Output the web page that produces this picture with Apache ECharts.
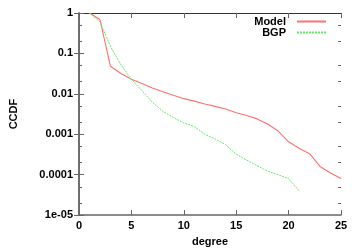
<!DOCTYPE html>
<html><head><meta charset="utf-8">
<script src="https://cdn.jsdelivr.net/npm/echarts@6/dist/echarts.min.js"></script>
<style>html,body{margin:0;padding:0;background:#fff}#c{width:360px;height:252px}</style>
</head><body><div id="c"></div>
<script>
var modelDegree = [1,2,3,4,5,6,7,8,9,10,11,12,13,14,15,16,17,18,19,20,21,22,23,24,25];
var modelCCDF = [1,0.69,0.048,0.032,0.023,0.018,0.014,0.0113,0.0092,0.0076,0.0066,0.0056,0.0049,0.0042,0.0034,0.0029,0.0024,0.0018,0.0012,0.00065,0.00045,0.00033,0.00016,0.00011,0.00008];
var bgpDegree = [1,2,3,4,5,6,7,8,9,10,11,12,13,14,15,16,17,18,19,20,21];
var bgpCCDF = [1,0.6,0.15,0.052,0.023,0.012,0.0062,0.0037,0.0026,0.0019,0.00155,0.001,0.00076,0.00055,0.00032,0.00023,0.000166,0.000123,0.0001,0.00008,0.00004];
var xTicks = [0,5,10,15,20,25];
var yTickLabels = ['1e-05','0.0001','0.001','0.01','0.1','1'];
var yMinor = [0.5,0.2,0.05,0.02,0.005,0.002,0.0005,0.0002,0.00005,0.00002];

function pairs(xs, ys){ return xs.map(function(x,i){ return [x, ys[i]]; }); }
var font = 'Liberation Sans';
var axisCol = '#666';
var chart = echarts.init(document.getElementById('c'));
var yBase = {
  type:'log', logBase:10, min:1e-5, max:1,
  splitLine:{show:false},
  axisLine:{show:true, lineStyle:{color:axisCol, width:1.5}},
  axisTick:{show:true, inside:true, length:5, lineStyle:{color:axisCol}}
};
var legendBase = {
  orient:'horizontal', right:33, align:'right', padding:0,
  itemWidth:29, itemHeight:10, itemGap:0,
  itemStyle:{opacity:0, borderWidth:0},
  textStyle:{fontFamily:font, fontWeight:'bold', fontSize:11, color:'#000', padding:[0,6,0,0]}
};
chart.setOption({
  animation:false,
  grid:{left:77, right:19, top:13, bottom:34},
  legend:[
    Object.assign({}, legendBase, {top:16, data:['Model']}),
    Object.assign({}, legendBase, {top:27, data:['BGP']})
  ],
  xAxis:[{
    type:'value', min:0, max:25, interval:5, position:'bottom',
    name:'degree', nameLocation:'middle', nameGap:19,
    nameTextStyle:{fontFamily:font, fontWeight:'bold', fontSize:11, color:'#000'},
    splitLine:{show:false},
    axisLine:{show:true, onZero:false, lineStyle:{color:axisCol, width:1.5}},
    axisTick:{show:true, inside:true, length:5, lineStyle:{color:axisCol}},
    axisLabel:{fontFamily:font, fontWeight:'bold', fontSize:11, color:'#000', margin:5,
      formatter:function(v){ return xTicks.indexOf(v)>=0 ? String(v) : ''; }}
  },{
    type:'value', min:0, max:25, interval:5, position:'top',
    splitLine:{show:false},
    axisLine:{show:true, onZero:false, lineStyle:{color:'#333', width:1}},
    axisTick:{show:true, inside:true, length:5, lineStyle:{color:axisCol}},
    axisLabel:{show:false}
  }],
  yAxis:[
    Object.assign({}, yBase, {
      position:'left',
      name:'CCDF', nameLocation:'middle', nameGap:60, nameRotate:90,
      nameTextStyle:{fontFamily:font, fontWeight:'bold', fontSize:11, color:'#000'},
      axisLabel:{fontFamily:font, fontWeight:'bold', fontSize:11, color:'#000', margin:6,
        formatter:function(v){ var k=Math.round(Math.log10(v))+5; return yTickLabels[k]||''; }}
    }),
    Object.assign({}, yBase, {position:'right', axisLabel:{show:false}}),
    Object.assign({}, yBase, {position:'left', axisLine:{show:false},
      axisTick:{show:true, inside:true, length:3, customValues:yMinor, lineStyle:{color:axisCol}},
      axisLabel:{show:false}}),
    Object.assign({}, yBase, {position:'right', axisLine:{show:false},
      axisTick:{show:true, inside:true, length:3, customValues:yMinor, lineStyle:{color:axisCol}},
      axisLabel:{show:false}})
  ],
  series:[{
    name:'Model', type:'line', showSymbol:false, symbol:'none',
    data:pairs(modelDegree, modelCCDF),
    lineStyle:{color:'#ff7070', width:1.1}, itemStyle:{color:'#ff7070'}
  },{
    name:'BGP', type:'line', showSymbol:false, symbol:'none',
    data:pairs(bgpDegree, bgpCCDF),
    lineStyle:{color:'#66e866', width:1, type:[2,1]}, itemStyle:{color:'#66e866'}
  }]
});
</script></body></html>
